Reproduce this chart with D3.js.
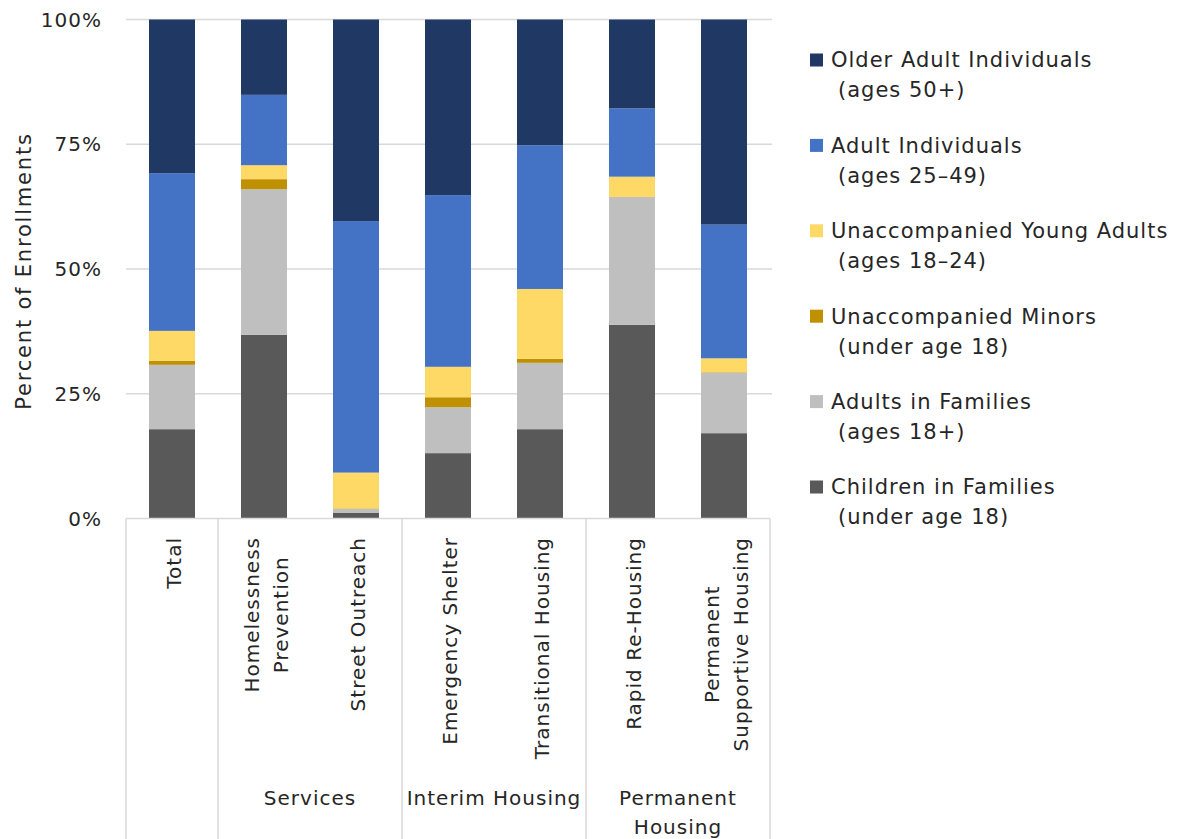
<!DOCTYPE html>
<html>
<head>
<meta charset="utf-8">
<script src="https://cdn.jsdelivr.net/npm/d3@7"></script>
<style>
  html, body { margin: 0; padding: 0; background: #fff; }
  svg { display: block; }
  text { font-family: "DejaVu Sans", sans-serif; fill: #262626; }
</style>
</head>
<body>
<svg id="chart" width="1198" height="839"></svg>
<script>
// ---------- data ----------
const categories = ["Total", "Homelessness\nPrevention", "Street Outreach", "Emergency Shelter",
                    "Transitional Housing", "Rapid Re-Housing", "Permanent\nSupportive Housing"];
const groupOf = ["", "Services", "Services", "Interim Housing", "Interim Housing",
                 "Permanent\nHousing", "Permanent\nHousing"];

const childrenInFamilies   = [17.9, 36.8, 1.1, 13.1, 17.9, 38.8, 17.1];
const adultsInFamilies     = [12.9, 29.2, 0.8,  9.2, 13.3, 25.6, 12.1];
const unaccompaniedMinors  = [ 0.8,  2.0, 0.1,  2.0,  0.8,  0.1,  0.1];
const unaccompaniedYoung   = [ 6.0,  2.8, 7.2,  6.1, 14.0,  4.0,  2.8];
const adultIndividuals     = [31.6, 14.1, 50.4, 34.4, 28.8, 13.7, 26.8];
const olderAdults          = [30.8, 15.1, 40.4, 35.2, 25.2, 17.8, 41.1];

const seriesKeys   = ["children", "adultsFam", "minors", "young", "adult", "older"];
const seriesNames  = ["Children in Families\n(under age 18)", "Adults in Families\n(ages 18+)",
                      "Unaccompanied Minors\n(under age 18)", "Unaccompanied Young Adults\n(ages 18–24)",
                      "Adult Individuals\n(ages 25–49)", "Older Adult Individuals\n(ages 50+)"];
const seriesColors = ["#595959", "#bfbfbf", "#bf9000", "#ffd966", "#4472c4", "#203864"];
const yTicks = [0, 25, 50, 75, 100];
const yTitle = "Percent of Enrollments";

// ---------- build ----------
(function () {
const seriesValues = [childrenInFamilies, adultsInFamilies, unaccompaniedMinors,
                      unaccompaniedYoung, adultIndividuals, olderAdults];
const rows = categories.map((c, i) => {
  const r = { cat: c };
  seriesKeys.forEach((k, j) => r[k] = seriesValues[j][i]);
  return r;
});

const svg = d3.select("#chart");
const pLeft = 126, pRight = 770, pTop = 19.5, pBottom = 518.5;
const grid = "#d9d9d9";
const LS = "1px";

const x = d3.scaleBand().domain(categories).range([pLeft, pRight]).paddingInner(0.5).paddingOuter(0.25);
const y = d3.scaleLinear().domain([0, 100]).range([pBottom, pTop]);

// gridlines
svg.append("g").selectAll("line").data(yTicks.filter(d => d > 0)).join("line")
  .attr("x1", pLeft).attr("x2", pRight + 2)
  .attr("y1", d => y(d)).attr("y2", d => y(d))
  .attr("stroke", grid).attr("stroke-width", 1.5);

// y tick labels
svg.append("g").selectAll("text").data(yTicks).join("text")
  .attr("x", 102).attr("y", d => y(d)).attr("dy", "0.35em")
  .attr("text-anchor", "end").style("font-size", "20px").style("letter-spacing", LS)
  .text(d => d3.format(".0%")(d / 100));

// y title
svg.append("text")
  .attr("transform", `translate(31,${(pTop + pBottom) / 2 + 2}) rotate(-90)`)
  .attr("text-anchor", "middle").style("font-size", "21px").style("letter-spacing", "1.8px")
  .text(yTitle);

// bars
const stack = d3.stack().keys(seriesKeys)(rows);
svg.append("g").selectAll("g").data(stack).join("g")
  .attr("fill", (d, i) => seriesColors[i])
  .selectAll("rect").data(d => d).join("rect")
  .attr("x", d => x(d.data.cat))
  .attr("width", x.bandwidth())
  .attr("y", d => y(d[1]))
  .attr("height", d => y(d[0]) - y(d[1]));

// bottom axis frame
const axisG = svg.append("g");
axisG.append("line").attr("x1", pLeft).attr("x2", pRight).attr("y1", pBottom).attr("y2", pBottom)
  .attr("stroke", grid).attr("stroke-width", 1.5);
const step = x.step();
const bounds = [pLeft];
categories.forEach((c, i) => {
  if (i < categories.length - 1 && groupOf[i] !== groupOf[i + 1]) bounds.push(x(c) + x.bandwidth() + (step - x.bandwidth()) / 2);
});
bounds.push(pRight);
axisG.selectAll("line.sep").data(bounds).join("line").attr("class", "sep")
  .attr("x1", d => d).attr("x2", d => d).attr("y1", pBottom).attr("y2", 839)
  .attr("stroke", grid).attr("stroke-width", 1.5);

// category labels (rotated, top-aligned, lines centred)
const labelTop = 537, lineH = 29;
categories.forEach(c => {
  const lines = c.split("\n");
  const cx = x(c) + x.bandwidth() / 2 + 2;
  const g = svg.append("g");
  const texts = lines.map((ln, k) => g.append("text")
    .attr("text-anchor", "middle").attr("dy", "0.35em")
    .style("font-size", "20px").style("letter-spacing", LS).text(ln));
  const maxLen = d3.max(texts, t => t.node().getComputedTextLength());
  const cy = labelTop + maxLen / 2;
  texts.forEach((t, k) => {
    const off = (k - (lines.length - 1) / 2) * lineH;
    t.attr("transform", `translate(${cx + off},${cy}) rotate(-90)`);
  });
});

// group labels
const groups = [];
groupOf.forEach((g, i) => {
  if (!g) return;
  let grp = groups.find(d => d.name === g);
  if (!grp) { grp = { name: g, idx: [] }; groups.push(grp); }
  grp.idx.push(i);
});
groups.forEach(gr => {
  const x0 = x(categories[gr.idx[0]]);
  const x1 = x(categories[gr.idx[gr.idx.length - 1]]) + x.bandwidth();
  const cx = (x0 + x1) / 2;
  gr.name.split("\n").forEach((ln, k) => {
    svg.append("text").attr("x", cx).attr("y", 798 + k * 29).attr("dy", "0.35em")
      .attr("text-anchor", "middle").style("font-size", "20px").style("letter-spacing", LS)
      .text(ln);
  });
});

// legend (top to bottom: reverse stack order)
const legendOrder = d3.range(seriesKeys.length).reverse();
legendOrder.forEach((si, r) => {
  const cy = 60 + r * 85.4;
  svg.append("rect").attr("x", 810).attr("y", cy - 6.5).attr("width", 13).attr("height", 13)
    .attr("fill", seriesColors[si]);
  seriesNames[si].split("\n").forEach((ln, k) => {
    svg.append("text").attr("x", k === 0 ? 831 : 838).attr("y", cy + k * 30).attr("dy", "0.35em")
      .style("font-size", "21px").style("letter-spacing", LS).text(ln);
  });
});
})();
</script>
</body>
</html>
